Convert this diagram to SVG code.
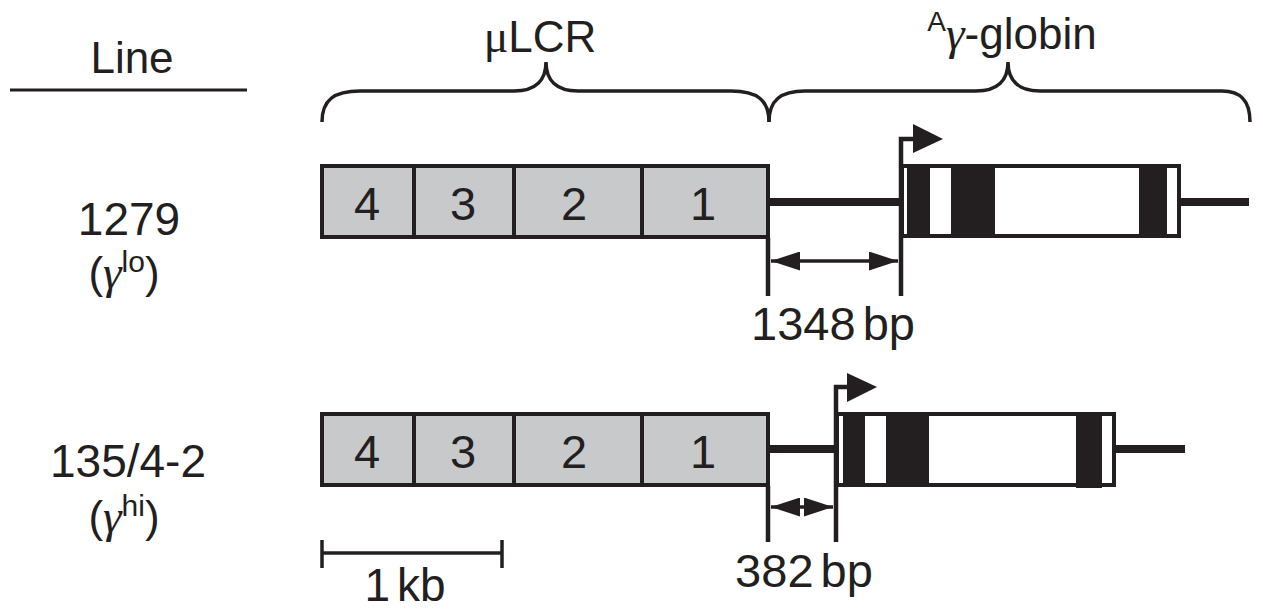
<svg xmlns="http://www.w3.org/2000/svg" width="1263" height="613" viewBox="0 0 1263 613">
<defs>
<style>
.t{font-family:"Liberation Sans",Arial,sans-serif;fill:#231f20}
.g{font-family:"Liberation Serif","Times New Roman",serif;font-style:italic}
.mu{font-family:"Liberation Serif","Times New Roman",serif;font-style:normal}
.lcr{fill:#c8c9cb;stroke:#231f20;stroke-width:4}
.gene{fill:#fff;stroke:#231f20;stroke-width:4}
.blk{fill:#231f20}
.ln{stroke:#231f20;fill:none}
</style>
<marker id="ah" viewBox="0 0 29 19" refX="29" refY="9.5" markerWidth="29" markerHeight="19" markerUnits="userSpaceOnUse" orient="auto-start-reverse">
<path d="M0,0 L29,9.5 L0,19 Z" fill="#231f20"/>
</marker>
</defs>
<rect width="1263" height="613" fill="#fff"/>

<g id="header">
<text class="t" x="132" y="73" font-size="44" text-anchor="middle">Line</text>
<line class="ln" x1="10" y1="90" x2="247" y2="90" stroke-width="3"/>
</g>

<g id="brace-lcr">
<path class="ln" stroke-width="3.5" d="M322,122 C322,100 334,91 360,91 L514,91 C536,91 546,80 546,62 C546,80 556,91 578,91 L731,91 C757,91 769,100 769,122"/>
<text class="t" x="540" y="52" font-size="44" text-anchor="middle"><tspan class="mu" font-size="46">μ</tspan>LCR</text>
</g>

<g id="brace-globin">
<path class="ln" stroke-width="3.5" d="M769,122 C769,100 781,91 805,91 L976,91 C998,91 1008,80 1008,62 C1008,80 1018,91 1040,91 L1222,91 C1240,91 1250,100 1250,122"/>
<text class="t" x="1012" y="49" font-size="44" text-anchor="middle"><tspan font-size="28" dy="-18">A</tspan><tspan class="g" font-size="47" dy="18">γ</tspan>-globin</text>
</g>

<g id="label-1279">
<text class="t" x="129" y="235" font-size="46" text-anchor="middle">1279</text>
<text class="t" x="124" y="288" font-size="44" text-anchor="middle">(<tspan class="g" font-size="47">γ</tspan><tspan font-size="30" dy="-16">lo</tspan><tspan dy="16">)</tspan></text>
</g>

<g id="label-135">
<text class="t" x="128" y="477" font-size="46" text-anchor="middle">135/4-2</text>
<text class="t" x="124" y="532" font-size="44" text-anchor="middle">(<tspan class="g" font-size="47">γ</tspan><tspan font-size="30" dy="-16">hi</tspan><tspan dy="16">)</tspan></text>
</g>

<g id="row1-lcr">
<rect class="lcr" x="322" y="166" width="446" height="71"/>
<line class="ln" x1="414" y1="166" x2="414" y2="237" stroke-width="4"/>
<line class="ln" x1="514" y1="166" x2="514" y2="237" stroke-width="4"/>
<line class="ln" x1="642" y1="166" x2="642" y2="237" stroke-width="4"/>
<text class="t" x="367" y="220" font-size="47" text-anchor="middle">4</text>
<text class="t" x="463" y="220" font-size="47" text-anchor="middle">3</text>
<text class="t" x="574" y="220" font-size="47" text-anchor="middle">2</text>
<text class="t" x="703" y="220" font-size="47" text-anchor="middle">1</text>
</g>

<g id="row1-gene">
<rect class="gene" x="902" y="166" width="277" height="70"/>
<rect class="blk" x="907" y="166" width="23" height="70"/>
<rect class="blk" x="951" y="166" width="44" height="70"/>
<rect class="blk" x="1139" y="166" width="28" height="70"/>
</g>

<g id="row2-lcr">
<rect class="lcr" x="322" y="414" width="446" height="71"/>
<line class="ln" x1="414" y1="414" x2="414" y2="485" stroke-width="4"/>
<line class="ln" x1="514" y1="414" x2="514" y2="485" stroke-width="4"/>
<line class="ln" x1="642" y1="414" x2="642" y2="485" stroke-width="4"/>
<text class="t" x="367" y="468" font-size="47" text-anchor="middle">4</text>
<text class="t" x="463" y="468" font-size="47" text-anchor="middle">3</text>
<text class="t" x="574" y="468" font-size="47" text-anchor="middle">2</text>
<text class="t" x="703" y="468" font-size="47" text-anchor="middle">1</text>
</g>

<g id="row2-gene">
<rect class="gene" x="837" y="414" width="277" height="71"/>
<rect class="blk" x="843" y="414" width="22" height="71"/>
<rect class="blk" x="886" y="414" width="43" height="71"/>
<rect class="blk" x="1076" y="414" width="26" height="74"/>
</g>

<g id="connectors">
<line class="ln" x1="770" y1="202" x2="901" y2="202" stroke-width="8"/>
<line class="ln" x1="1181" y1="202" x2="1249" y2="202" stroke-width="8"/>
<path class="ln" stroke-width="4.5" d="M901,296 V139 H915"/>
<path d="M913,124 L943,139 L913,153 Z" fill="#231f20"/>
<line class="ln" x1="768" y1="238" x2="768" y2="296" stroke-width="4.5"/>
<line class="ln" x1="771" y1="261" x2="898" y2="261" stroke-width="3.5" marker-start="url(#ah)" marker-end="url(#ah)"/>
<text class="t" x="833" y="340" font-size="47" text-anchor="middle" word-spacing="-6">1348 bp</text>

<line class="ln" x1="770" y1="449" x2="836" y2="449" stroke-width="8"/>
<line class="ln" x1="1116" y1="449" x2="1185" y2="449" stroke-width="8"/>
<path class="ln" stroke-width="4.5" d="M836,542 V387 H849"/>
<path d="M847,373 L877,387 L847,402 Z" fill="#231f20"/>
<line class="ln" x1="768" y1="486" x2="768" y2="542" stroke-width="4.5"/>
<line class="ln" x1="771" y1="507" x2="833" y2="507" stroke-width="3.5" marker-start="url(#ah)" marker-end="url(#ah)"/>
<text class="t" x="804" y="587" font-size="47" text-anchor="middle" word-spacing="-6">382 bp</text>
</g>

<g id="scale-bar">
<line class="ln" x1="322" y1="553" x2="502" y2="553" stroke-width="3.5"/>
<line class="ln" x1="322" y1="540" x2="322" y2="568" stroke-width="3.5"/>
<line class="ln" x1="502" y1="540" x2="502" y2="568" stroke-width="3.5"/>
<text class="t" x="405" y="601" font-size="46" text-anchor="middle" word-spacing="-6">1 kb</text>
</g>
</svg>
